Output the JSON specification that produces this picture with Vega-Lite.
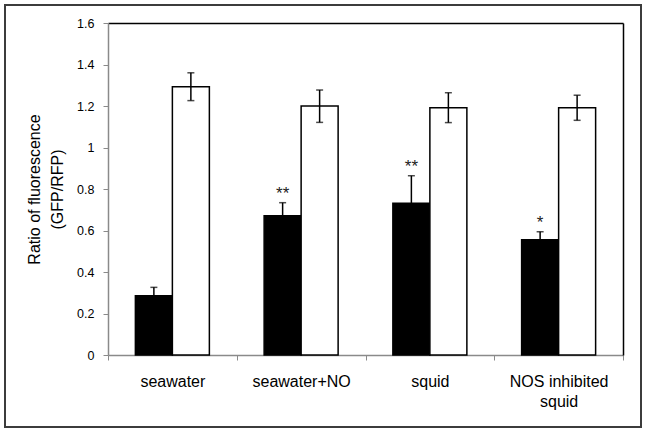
{
  "$schema": "https://vega.github.io/schema/vega-lite/v6.json",
  "width": 636,
  "height": 422,
  "autosize": "none",
  "padding": {"left": 5, "top": 5, "right": 6, "bottom": 6},
  "background": "white",
  "config": {
    "font": "Liberation Sans",
    "view": {"stroke": "#3c3c3c", "strokeWidth": 2},
    "axis": {"grid": false}
  },
  "data": {
    "values": [
      {"condition": "seawater", "series": "series 1", "ratio": 0.286, "low": 0.246, "high": 0.326, "sig": ""},
      {"condition": "seawater", "series": "series 2", "ratio": 1.293, "low": 1.226, "high": 1.36, "sig": ""},
      {"condition": "seawater+NO", "series": "series 1", "ratio": 0.671, "low": 0.608, "high": 0.734, "sig": "**"},
      {"condition": "seawater+NO", "series": "series 2", "ratio": 1.2, "low": 1.121, "high": 1.277, "sig": ""},
      {"condition": "squid", "series": "series 1", "ratio": 0.731, "low": 0.598, "high": 0.864, "sig": "**"},
      {"condition": "squid", "series": "series 2", "ratio": 1.192, "low": 1.12, "high": 1.264, "sig": ""},
      {"condition": "NOS inhibited squid", "series": "series 1", "ratio": 0.556, "low": 0.518, "high": 0.594, "sig": "*"},
      {"condition": "NOS inhibited squid", "series": "series 2", "ratio": 1.192, "low": 1.131, "high": 1.252, "sig": ""}
    ]
  },
  "resolve": {"axis": {"x": "independent", "y": "independent"}},
  "layer": [
    {
      "mark": {"type": "bar", "stroke": "black", "strokeWidth": 1.5},
      "encoding": {
        "x": {
          "field": "condition", "type": "nominal",
          "sort": ["seawater", "seawater+NO", "squid", "NOS inhibited squid"],
          "scale": {"range": [103, 618], "paddingInner": 0, "paddingOuter": 0},
          "axis": {
            "orient": "bottom", "offset": -72, "title": null, "labelAngle": 0,
            "labelFontSize": 16, "labelColor": "black", "labelPadding": 13,
            "labelLineHeight": 20,
            "labelExpr": "datum.value == 'NOS inhibited squid' ? ['NOS inhibited', 'squid'] : datum.value",
            "tickBand": "extent", "tickSize": 5, "tickColor": "#8a8a8a",
            "domainColor": "#8a8a8a", "domainWidth": 1.5
          }
        },
        "xOffset": {
          "field": "series", "type": "nominal",
          "scale": {"paddingInner": 0, "paddingOuter": 0.74}
        },
        "y": {
          "field": "ratio", "type": "quantitative",
          "scale": {"domain": [0, 1.6], "range": [350, 18], "nice": false, "zero": true},
          "axis": {
            "orient": "left", "offset": -103,
            "values": [0, 0.2, 0.4, 0.6, 0.8, 1, 1.2, 1.4, 1.6],
            "format": ".1~f",
            "labelFontSize": 12.5, "labelColor": "black", "labelPadding": 9,
            "tickSize": 5, "tickColor": "#8a8a8a",
            "domainColor": "#8a8a8a", "domainWidth": 1.5,
            "title": ["Ratio of fluorescence", "(GFP/RFP)"],
            "titleFontSize": 16, "titleFontWeight": "normal", "titleColor": "black",
            "titlePadding": 11, "titleLineHeight": 23
          }
        },
        "fill": {
          "field": "series", "type": "nominal",
          "scale": {"domain": ["series 1", "series 2"], "range": ["black", "white"]},
          "legend": null
        }
      }
    },
    {
      "mark": {"type": "rule", "color": "black", "strokeWidth": 1.5},
      "encoding": {
        "x": {
          "field": "condition", "type": "nominal",
          "sort": ["seawater", "seawater+NO", "squid", "NOS inhibited squid"],
          "axis": {
            "orient": "top", "offset": -18, "title": null, "labels": false, "ticks": false,
            "domainColor": "black", "domainWidth": 1.5
          }
        },
        "xOffset": {"field": "series", "type": "nominal"},
        "y": {
          "field": "low", "type": "quantitative",
          "axis": {
            "orient": "right", "offset": -18, "title": null, "labels": false, "ticks": false,
            "domainColor": "black", "domainWidth": 1.5
          }
        },
        "y2": {"field": "high"}
      }
    },
    {
      "mark": {"type": "tick", "color": "black", "size": 7, "thickness": 1.5},
      "encoding": {
        "x": {"field": "condition", "type": "nominal", "sort": ["seawater", "seawater+NO", "squid", "NOS inhibited squid"], "axis": null},
        "xOffset": {"field": "series", "type": "nominal"},
        "y": {"field": "low", "type": "quantitative", "axis": null}
      }
    },
    {
      "mark": {"type": "tick", "color": "black", "size": 7, "thickness": 1.5},
      "encoding": {
        "x": {"field": "condition", "type": "nominal", "sort": ["seawater", "seawater+NO", "squid", "NOS inhibited squid"], "axis": null},
        "xOffset": {"field": "series", "type": "nominal"},
        "y": {"field": "high", "type": "quantitative", "axis": null}
      }
    },
    {
      "transform": [{"filter": "datum.sig != ''"}],
      "mark": {"type": "text", "fontSize": 17, "color": "#222", "baseline": "alphabetic", "align": "center", "dy": -4},
      "encoding": {
        "x": {"field": "condition", "type": "nominal", "sort": ["seawater", "seawater+NO", "squid", "NOS inhibited squid"], "axis": null},
        "xOffset": {"field": "series", "type": "nominal"},
        "y": {"field": "high", "type": "quantitative", "axis": null},
        "text": {"field": "sig"}
      }
    }
  ]
}
